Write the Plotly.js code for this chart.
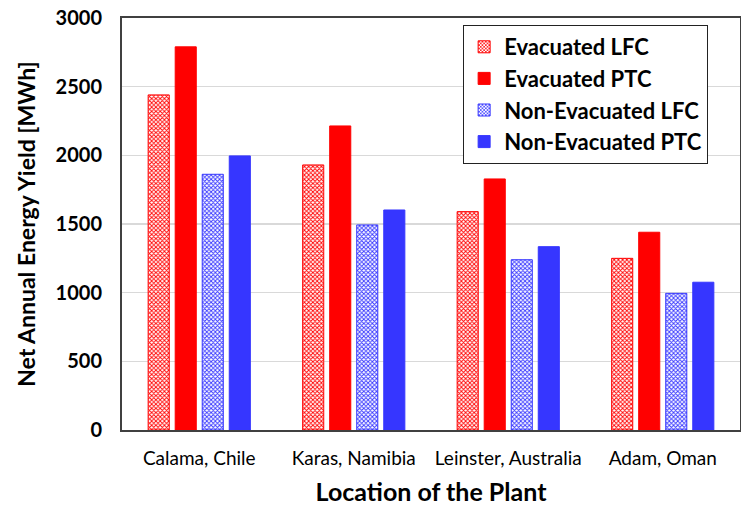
<!DOCTYPE html>
<html>
<head>
<meta charset="utf-8">
<script src="https://cdn.plot.ly/plotly-3.0.1.min.js"></script>
<style>
  html, body { margin: 0; padding: 0; background: #fff; }
  #chart { width: 741px; height: 506px; }
</style>
</head>
<body>
<div id="chart"></div>
<script>
const locations = ['Calama, Chile', 'Karas, Namibia', 'Leinster, Australia', 'Adam, Oman'];
const evacLFC = [2440, 1930, 1590, 1250];
const evacPTC = [2790, 2214, 1828, 1440];
const nonEvacLFC = [1862, 1493, 1240, 995];
const nonEvacPTC = [1996, 1602, 1335, 1076];

const red = '#ff0000';
const blue = '#3636ff';

function hatched(name, vals, col) {
    return {
        type: 'bar',
        name: name,
        x: locations,
        y: vals,
        marker: {
            color: '#ffffff',
            line: { color: col, width: 1 },
            pattern: { shape: 'x', size: 3, solidity: 0.5, fgcolor: col, bgcolor: '#ffffff', fillmode: 'replace' }
        }
    };
}

function solid(name, vals, col) {
    return {
        type: 'bar',
        name: name,
        x: locations,
        y: vals,
        marker: { color: col, line: { color: col, width: 1 } }
    };
}

const traces = [
    hatched('Evacuated LFC', evacLFC, red),
    solid('Evacuated PTC', evacPTC, red),
    hatched('Non-Evacuated LFC', nonEvacLFC, blue),
    solid('Non-Evacuated PTC', nonEvacPTC, blue)
];

const layout = {
    width: 741,
    height: 506,
    margin: { l: 122, r: 1, t: 18, b: 76 },
    paper_bgcolor: '#ffffff',
    plot_bgcolor: '#ffffff',
    barmode: 'group',
    bargap: 0.3,
    bargroupgap: 0.22,
    font: { family: 'Lato, sans-serif', color: '#000000' },
    xaxis: {
        showline: true,
        mirror: true,
        linecolor: '#404040',
        linewidth: 2,
        ticks: '',
        ticklabelstandoff: 10,
        tickfont: { size: 19, family: 'Lato, sans-serif' },
        title: { text: 'Location of the Plant', font: { size: 25, weight: 'bold' }, standoff: 22 }
    },
    yaxis: {
        range: [0, 3000],
        dtick: 500,
        showline: true,
        mirror: true,
        linecolor: '#404040',
        linewidth: 2,
        gridcolor: '#d9d9d9',
        gridwidth: 1.5,
        ticks: '',
        ticklabelstandoff: 14,
        tickfont: { size: 20, weight: 'bold' },
        title: { text: 'Net Annual Energy Yield [MWh]', font: { size: 23, weight: 'bold' }, standoff: 14 }
    },
    legend: {
        x: 0.552,
        y: 0.983,
        xanchor: 'left',
        yanchor: 'top',
        bgcolor: '#ffffff',
        bordercolor: '#222222',
        borderwidth: 1,
        font: { size: 22, weight: 'bold' },
        tracegroupgap: 0
    },
    showlegend: true
};

Plotly.newPlot('chart', traces, layout, { displayModeBar: false, staticPlot: true });
</script>
</body>
</html>
